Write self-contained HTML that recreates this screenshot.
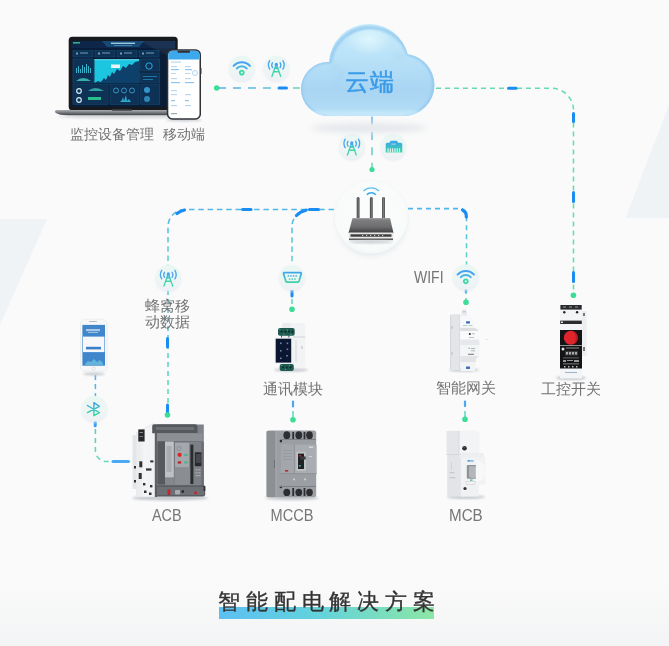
<!DOCTYPE html>
<html><head><meta charset="utf-8">
<style>
html,body{margin:0;padding:0;}
body{width:669px;height:646px;overflow:hidden;position:relative;background:#fafafa;font-family:"Liberation Sans",sans-serif;}
.abs{position:absolute;}
.lbl{position:absolute;color:#727272;white-space:nowrap;line-height:1;transform:scale(1.0001);transform-origin:0 0;}
svg{position:absolute;left:0;top:0;}
</style></head><body>
<svg width="669" height="646" viewBox="0 0 669 646">
<defs>
  <linearGradient id="bg" x1="0" y1="0" x2="0" y2="1">
    <stop offset="0" stop-color="#fafafa"/><stop offset="0.9" stop-color="#fafafa"/><stop offset="1" stop-color="#f3f4f5"/>
  </linearGradient>
</defs>
<rect width="669" height="646" fill="url(#bg)"/>
<polygon points="0,219 47,219 0,325" fill="#eff3f6"/>
<polygon points="625.5,218 669,218 669,105" fill="#eff3f6"/>
</svg>
<svg width="669" height="646" viewBox="0 0 669 646" fill="none">
<defs>
  <linearGradient id="gTL" gradientUnits="userSpaceOnUse" x1="216" y1="0" x2="300" y2="0">
    <stop offset="0" stop-color="#56acf2"/><stop offset="0.7" stop-color="#5cc4dc"/><stop offset="1" stop-color="#64dcb4"/>
  </linearGradient>
  <linearGradient id="gV" gradientUnits="userSpaceOnUse" x1="0" y1="116" x2="0" y2="170">
    <stop offset="0" stop-color="#56acf2"/><stop offset="1" stop-color="#5edbb0"/>
  </linearGradient>
  <linearGradient id="gRL" gradientUnits="userSpaceOnUse" x1="0" y1="205" x2="0" y2="265">
    <stop offset="0" stop-color="#4fb3ec"/><stop offset="1" stop-color="#62d8c4"/>
  </linearGradient>
  <linearGradient id="gACB" gradientUnits="userSpaceOnUse" x1="0" y1="290" x2="0" y2="415">
    <stop offset="0" stop-color="#56c8d8"/><stop offset="1" stop-color="#5edcb4"/>
  </linearGradient>
  <linearGradient id="gPH" gradientUnits="userSpaceOnUse" x1="0" y1="375" x2="0" y2="462">
    <stop offset="0" stop-color="#4fb0f0"/><stop offset="1" stop-color="#5edcb8"/>
  </linearGradient>
</defs>
<g stroke-width="1.55">
  <!-- top left -->
  <path d="M217 88 H300" stroke="url(#gTL)" stroke-dasharray="8 7" stroke-dashoffset="-1"/>
  <!-- top right -->
  <path d="M436 88.3 H551.5 A22 22 0 0 1 573.5 110.3 V295" stroke="#66dcb0" stroke-dasharray="5 4"/>
  <!-- cloud down -->
  <path d="M372 116.5 V169" stroke="url(#gV)" stroke-dasharray="8 7.4" stroke-width="1.4"/>
  <!-- router left -->
  <path d="M334 209.5 H185 A17 17 0 0 0 168 226.5 V266" stroke="url(#gRL)" stroke-dasharray="5.5 3.8"/>
  <path d="M309 209.5 A17 17 0 0 0 292 226.5 V266" stroke="url(#gRL)" stroke-dasharray="5.5 3.8"/>
  <path d="M168 290 V415" stroke="url(#gACB)" stroke-dasharray="5 4"/>
  <path d="M292 290 V309" stroke="#5ed8c0" stroke-dasharray="5 4"/>
  <!-- router right -->
  <path d="M408 208.6 H459.5 A7 7 0 0 1 466.5 215.6 V266" stroke="url(#gRL)" stroke-dasharray="5 4"/>
  <path d="M466 290 V302" stroke="#5ed8c0" stroke-dasharray="4 4"/>
  <!-- phone to ACB -->
  <path d="M95.4 375 V450.5 A11 11 0 0 0 106.4 461.5 H129" stroke="url(#gPH)" stroke-dasharray="5 4"/>
  <!-- MCCB / MCB -->
  <path d="M293 401 V419" stroke="#5ed8c0" stroke-dasharray="6 4"/>
  <path d="M465 401 V419" stroke="#5ed8c0" stroke-dasharray="6 4"/>
</g>
<g stroke="#1a8cf2" stroke-width="3" stroke-linecap="round">
  <path d="M279 88 H286.5"/>
  <path d="M508.5 88.3 H516"/>
  <path d="M573.5 113.5 V121.5"/>
  <path d="M573.5 192.5 V201.5"/>
  <path d="M573.5 272.5 V281.5"/>
  <path d="M177 213.5 A17 17 0 0 1 184.5 210" stroke-width="3.2"/>
  <path d="M242.5 209.5 H251"/>
  <path d="M296.5 215.5 A17 17 0 0 1 306 210.2" stroke-width="3.2"/>
  <path d="M309.5 209.5 H318.5"/>
  <path d="M462.5 210 A7 7 0 0 1 466.3 217" stroke-width="3.2"/>
  <path d="M167.5 338.5 V347"/>
  <path d="M167.5 405 V413"/>
  <path d="M292 290.5 V296"/>
  <path d="M113 461.5 H128.5" stroke="#48aaf4"/>
  <path d="M95.2 422.5 V425.8" stroke="#3a9ef4"/>
</g>
<g stroke="#4aa6f0" stroke-width="2.2" stroke-linecap="round">
  <path d="M466 289.3 V291.8" stroke-width="2.6"/>
  <path d="M293 401.5 V406.5"/>
  <path d="M465 401.5 V406"/>
</g>
<g fill="#3ddc97">
  <circle cx="216.7" cy="88" r="2.8"/>
  <circle cx="573.4" cy="295.3" r="2.8"/>
  <circle cx="372" cy="169.5" r="2.6"/>
  <circle cx="292" cy="309.2" r="2.8"/>
  <circle cx="466" cy="302.3" r="2.8"/>
  <circle cx="167.5" cy="415" r="2.8"/>
  <circle cx="293" cy="419.7" r="2.8"/>
  <circle cx="465" cy="419.3" r="2.8"/>
</g>
</svg>
<svg width="669" height="646" viewBox="0 0 669 646" fill="none">
<defs>
  <linearGradient id="cbg" x1="0" y1="0" x2="0" y2="1">
    <stop offset="0" stop-color="#e9f7f2"/><stop offset="0.6" stop-color="#eef5f5"/><stop offset="1" stop-color="#edf1f6"/>
  </linearGradient>
  <linearGradient id="ig" x1="0" y1="0" x2="0" y2="1">
    <stop offset="0" stop-color="#3b9cf6"/><stop offset="1" stop-color="#3ddc9a"/>
  </linearGradient>
  <filter id="csh" x="-50%" y="-50%" width="200%" height="200%">
    <feGaussianBlur stdDeviation="1.2"/>
  </filter>
  <g id="circ">
    <circle cx="0" cy="1.2" r="13" fill="#e4e9ef" filter="url(#csh)" opacity="0.7"/>
    <circle cx="0" cy="0" r="12.6" fill="url(#cbg)"/>
  </g>
  <g id="wifi">
    <use href="#circ"/>
    <g stroke="url(#ig)" stroke-width="1.9" stroke-linecap="round" fill="none">
      <path d="M-8.2 -2.4 A11 11 0 0 1 8.2 -2.4" stroke="#45a2f2"/>
      <path d="M-5 0.2 A6.8 6.8 0 0 1 5 0.2" stroke="#4cb6e0"/>
      <circle cx="0" cy="4.3" r="2" stroke="#40d8a2" stroke-width="1.8"/>
    </g>
  </g>
  <g id="ant">
    <use href="#circ"/>
    <g stroke-linecap="round" fill="none" stroke-width="1.35">
      <path d="M-3.8 -5.6 Q-5.4 -3.2 -3.8 -0.6 M3.8 -5.6 Q5.4 -3.2 3.8 -0.6" stroke="#4ca8ee"/>
      <path d="M-6.6 -7.6 Q-9.2 -3.4 -6.6 0.9 M6.6 -7.6 Q9.2 -3.4 6.6 0.9" stroke="#4ca8ee"/>
      <path d="M-4.4 8.2 L-0.7 -2.6 H0.7 L4.4 8.2 M-2.6 3.4 H2.6 M-1.4 0.6 L1.2 -1.2 M1.4 0.6 L-1.2 -1.2" stroke="url(#ig2)"/>
      <circle cx="0" cy="-4" r="1.6" fill="#45a2f0" stroke="none"/>
    </g>
  </g>
  <linearGradient id="ig2" gradientUnits="userSpaceOnUse" x1="0" y1="-4" x2="0" y2="8">
    <stop offset="0" stop-color="#4aa8ec"/><stop offset="0.45" stop-color="#44d2b0"/><stop offset="1" stop-color="#3ddc98"/>
  </linearGradient>
  <linearGradient id="ig3" gradientUnits="userSpaceOnUse" x1="0" y1="-7" x2="0" y2="7">
    <stop offset="0" stop-color="#3d9ef5"/><stop offset="1" stop-color="#3ddc9a"/>
  </linearGradient>
  <g id="serial">
    <use href="#circ"/>
    <path d="M-7.6 -4.8 H8.4 Q9.6 -4.8 9.2 -3.6 L7 3.6 Q6.6 4.6 5.6 4.6 H-4.8 Q-5.8 4.6 -6.2 3.6 L-8.4 -3.6 Q-8.8 -4.8 -7.6 -4.8 Z" stroke="url(#ig3)" stroke-width="1.7"/>
    <g fill="#55b8d8">
      <circle cx="-3.6" cy="-1.6" r="0.9"/><circle cx="-1" cy="-1.6" r="0.9"/><circle cx="1.6" cy="-1.6" r="0.9"/><circle cx="4.2" cy="-1.6" r="0.9"/>
      <circle cx="-2.4" cy="1.6" r="0.9" fill="#50ccb8"/><circle cx="0.3" cy="1.6" r="0.9" fill="#50ccb8"/><circle cx="3" cy="1.6" r="0.9" fill="#50ccb8"/>
    </g>
  </g>
  <g id="bt">
    <use href="#circ"/>
    <path d="M-7 -3.2 L5 3.9 L-0.5 7 V-6 L5 -2.4 L-7 3.9" stroke="url(#ig3)" stroke-width="1.45" stroke-linejoin="round" stroke-linecap="round"/>
  </g>
  <g id="eth">
    <use href="#circ"/>
    <path d="M-7.6 -2.5 Q-7.6 -4 -6 -4 H-4 L-2.5 -6 H3.5 L5 -4 H7.5 Q9 -4 9 -2.5 V5.6 H-7.6 Z" fill="url(#ig3)"/>
    <g fill="#eaf5f3">
      <rect x="-5.8" y="1.5" width="1.1" height="4.2"/><rect x="-3.5" y="1.5" width="1.1" height="4.2"/><rect x="-1.2" y="1.5" width="1.1" height="4.2"/>
      <rect x="1.1" y="1.5" width="1.1" height="4.2"/><rect x="3.4" y="1.5" width="1.1" height="4.2"/><rect x="5.7" y="1.5" width="1.1" height="4.2"/>
      <rect x="-2" y="-3.2" width="4.5" height="1" opacity="0.6"/>
    </g>
  </g>
</defs>
<use href="#wifi" x="241.8" y="68.3"/>
<use href="#ant" x="276.3" y="68.3"/>
<use href="#ant" x="351.8" y="146.8"/>
<use href="#eth" x="393.3" y="146.8"/>
<use href="#ant" x="168.3" y="277.9"/>
<use href="#serial" x="292" y="277.5"/>
<use href="#wifi" x="465.8" y="277"/>
<use href="#bt" x="94.4" y="408.7"/>
</svg>
<svg width="669" height="646" viewBox="0 0 669 646">
<defs>
  <filter id="b1" x="-20%" y="-20%" width="140%" height="140%"><feGaussianBlur stdDeviation="1"/></filter>
  <filter id="b2" x="-30%" y="-30%" width="160%" height="160%"><feGaussianBlur stdDeviation="2.5"/></filter>
  <filter id="b3" x="-30%" y="-100%" width="160%" height="300%"><feGaussianBlur stdDeviation="3"/></filter>
  <filter id="b05"><feGaussianBlur stdDeviation="0.5"/></filter>
  <filter id="b04" x="-5%" y="-5%" width="110%" height="110%"><feGaussianBlur stdDeviation="0.35"/></filter>
  <clipPath id="scrClip"><rect x="71.2" y="40.8" width="104.3" height="66.2"/></clipPath>
  <g id="cloudP"><circle cx="328" cy="89" r="27"/><circle cx="369" cy="64" r="40"/><circle cx="403.5" cy="85" r="31"/><rect x="328" y="62" width="76" height="54.1"/></g>
  <clipPath id="cloudClip"><circle cx="328" cy="89" r="27"/><circle cx="369" cy="64" r="40"/><circle cx="403.5" cy="85" r="31"/><rect x="328" y="62" width="76" height="54.1"/></clipPath>
  <linearGradient id="cloudG" x1="0" y1="0" x2="0" y2="1">
    <stop offset="0" stop-color="#d6f3fc"/><stop offset="0.45" stop-color="#c2e6f9"/><stop offset="1" stop-color="#b2dbf6"/>
  </linearGradient>
  <linearGradient id="cloudGU" gradientUnits="userSpaceOnUse" x1="0" y1="25" x2="0" y2="116">
    <stop offset="0" stop-color="#d4f2fc"/><stop offset="0.5" stop-color="#c0e5f8"/><stop offset="1" stop-color="#b6ddf6"/>
  </linearGradient>
  <linearGradient id="cloudBase" gradientUnits="userSpaceOnUse" x1="0" y1="24" x2="0" y2="116">
    <stop offset="0" stop-color="#c6eafa"/><stop offset="0.35" stop-color="#bae2f8"/><stop offset="0.72" stop-color="#a9d5f3"/><stop offset="0.9" stop-color="#b0daf5"/><stop offset="1" stop-color="#bfe3f8"/>
  </linearGradient>
  <radialGradient id="cloudHi" cx="0.5" cy="0.3" r="0.5">
    <stop offset="0" stop-color="#e2f8fd" stop-opacity="0.9"/><stop offset="1" stop-color="#e2f8fd" stop-opacity="0"/>
  </radialGradient>
  <radialGradient id="routerBg" cx="0.5" cy="0.45" r="0.55">
    <stop offset="0" stop-color="#fbfcfc"/><stop offset="0.9" stop-color="#f9fbfb"/><stop offset="1" stop-color="#f3f7f7"/>
  </radialGradient>
  <linearGradient id="rtTop" x1="0" y1="0" x2="0" y2="1">
    <stop offset="0" stop-color="#a8a8aa"/><stop offset="0.12" stop-color="#7e7e81"/><stop offset="0.6" stop-color="#6c6c6e"/><stop offset="1" stop-color="#3c3c3e"/>
  </linearGradient>
  <linearGradient id="antG" x1="0" y1="0" x2="1" y2="0">
    <stop offset="0" stop-color="#3a3a3c"/><stop offset="0.5" stop-color="#7a7a7c"/><stop offset="1" stop-color="#3a3a3c"/>
  </linearGradient>
  <linearGradient id="lapBase" x1="0" y1="0" x2="0" y2="1">
    <stop offset="0" stop-color="#a9acb1"/><stop offset="0.45" stop-color="#7a7d82"/><stop offset="1" stop-color="#3f4247"/>
  </linearGradient>
</defs>

<!-- cloud shadow -->
<ellipse cx="369" cy="128" rx="58" ry="5" fill="#e0e4e9" filter="url(#b3)" opacity="0.85"/>
<!-- cloud -->
<g fill="url(#cloudBase)">
  <circle cx="328" cy="89" r="27"/><circle cx="369" cy="64" r="40"/><circle cx="403.5" cy="85" r="31"/><rect x="328" y="62" width="76" height="54.1"/>
</g>
<g clip-path="url(#cloudClip)">
  <g fill="none" stroke="#8fc6ee" stroke-width="2.6" filter="url(#b1)" opacity="0.9">
    <path d="M328 116 A27 27 0 0 1 301 89 A27 27 0 0 1 330.5 62.2"/>
    <path d="M330.5 62.2 A40 40 0 0 1 408 54.5"/>
    <path d="M408 54.5 A31 31 0 0 1 403.5 116"/>
  </g>
  <g fill="none" stroke="#a4d2f2" stroke-width="3" filter="url(#b2)" opacity="0.7">
    <path d="M331 70 A24 24 0 0 1 338 66"/>
    <path d="M336 88 A35 35 0 0 1 345 70"/>
    <path d="M394 57 A29 29 0 0 1 402 56"/>
  </g>
  <ellipse cx="369" cy="46" rx="24" ry="16" fill="url(#cloudHi)"/>
  <rect x="300" y="111" width="137" height="6" fill="#c6e8f9" filter="url(#b1)" opacity="0.8"/>
</g>

<!-- router -->
<circle cx="371.3" cy="221" r="36" fill="#e6eaee" filter="url(#b2)" opacity="0.85"/>
<circle cx="371.3" cy="217" r="36.8" fill="url(#routerBg)" stroke="#eaf3f1" stroke-width="0.4"/>
<g>
  <path d="M363.5 191 A11 11 0 0 1 379 191" stroke="#62c0f0" stroke-width="1.3" fill="none"/>
  <path d="M366.8 194.8 A6 6 0 0 1 375.8 194.8" stroke="#3aa8f0" stroke-width="1.6" fill="none"/>
  <rect x="356.7" y="197" width="2.8" height="22" rx="1.4" fill="url(#antG)"/>
  <rect x="369.9" y="197" width="2.8" height="22" rx="1.4" fill="url(#antG)"/>
  <rect x="382.1" y="197" width="2.8" height="22" rx="1.4" fill="url(#antG)"/>
  <path d="M352.5 218 H390 L393.5 233 H348.5 Z" fill="url(#rtTop)"/>
  <rect x="348.5" y="232.5" width="45" height="6" rx="1" fill="#e8e8e8"/>
  <rect x="350.5" y="234.3" width="41" height="2.4" fill="#3a3a3a"/>
  <g fill="#d0d0d0"><rect x="362" y="235" width="1.2" height="1"/><rect x="366" y="235" width="1.2" height="1"/><rect x="370" y="235" width="1.2" height="1"/><rect x="374" y="235" width="1.2" height="1"/><rect x="378" y="235" width="1.2" height="1"/><rect x="382" y="235" width="1.2" height="1"/></g>
  <rect x="349" y="238.5" width="44" height="1.6" fill="#555"/>
  <ellipse cx="371" cy="242" rx="22" ry="1.5" fill="#c8ccd0" filter="url(#b1)"/>
</g>

<!-- laptop -->
<ellipse cx="122" cy="116.5" rx="64" ry="2" fill="#d5d8dc" filter="url(#b1)"/>
<rect x="68.7" y="36.7" width="109" height="73.5" rx="3.5" fill="#17191c"/>
<rect x="71.2" y="40.8" width="104.3" height="66.2" fill="#0a1d36"/>
<g filter="url(#b04)" clip-path="url(#scrClip)">
  <rect x="71.2" y="40.8" width="104.3" height="7.5" fill="#0c2748"/>
  <path d="M102 41 H144 L139 47 H107 Z" fill="#174a74"/>
  <rect x="111" y="42.6" width="24" height="1.4" fill="#a8d8ee" opacity="0.9"/>
  <rect x="114" y="45" width="18" height="0.8" fill="#6fa8cc" opacity="0.7"/>
  <rect x="73" y="42" width="7" height="1.6" fill="#3fd090" opacity="0.8"/>
  <g fill="#0f3356" stroke="#1b4f7c" stroke-width="0.5">
    <rect x="73" y="50.5" width="20" height="6.5"/>
    <rect x="95" y="50.5" width="20" height="6.5"/>
    <rect x="117" y="50.5" width="20" height="6.5"/>
    <rect x="139" y="50.5" width="20" height="6.5"/>
    <rect x="73" y="59" width="20.5" height="24"/>
    <rect x="140.8" y="59" width="19" height="12"/>
    <rect x="140.8" y="73" width="19" height="10"/>
    <rect x="73" y="84.5" width="35" height="20"/>
    <rect x="110" y="84.5" width="29" height="20"/>
    <rect x="140.8" y="84.5" width="19" height="20"/>
  </g>
  <g fill="#9cc8e0" opacity="0.7">
    <rect x="76" y="52.5" width="2" height="2"/><rect x="80" y="52.5" width="8" height="1"/>
    <rect x="98" y="52.5" width="2" height="2"/><rect x="102" y="52.5" width="8" height="1"/>
    <rect x="120" y="52.5" width="2" height="2"/><rect x="124" y="52.5" width="8" height="1"/>
    <rect x="142" y="52.5" width="2" height="2"/><rect x="146" y="52.5" width="8" height="1"/>
  </g>
  <g fill="#3fc8e0" opacity="0.85">
    <rect x="76" y="68" width="1" height="5"/><rect x="78" y="66" width="1" height="7"/><rect x="80" y="69" width="1" height="4"/><rect x="82" y="65" width="1" height="8"/><rect x="84" y="67" width="1" height="6"/><rect x="86" y="64" width="1" height="9"/><rect x="88" y="66" width="1" height="7"/><rect x="90" y="68" width="1" height="5"/>
  </g>
  <path d="M76 81 Q83 75 91 81 Z" fill="#3fd0c0" opacity="0.8"/>
  <rect x="94.4" y="59.1" width="44.8" height="24" fill="#1ec6e0"/>
  <path d="M94.4 83.1 L98 81 L101 82 L104 78 L106 80 L108 75 L110 77 L112 72 L114 74 L117 69 L120 71 L123 66 L126 68 L129 64 L132 65 L135 62 L139.2 61 V83.1 Z" fill="#0b3f6a"/>
  <rect x="111" y="64.5" width="9" height="3.5" fill="#e8f4f8"/>
  <rect x="94.4" y="59.1" width="44.8" height="1.2" fill="#7fe0f0" opacity="0.6"/>
  <circle cx="149" cy="66" r="3.2" fill="none" stroke="#2aa8e0" stroke-width="1"/>
  <g fill="#2aa8e0" opacity="0.6"><rect x="143" y="76" width="14" height="1"/><rect x="143" y="79" width="10" height="1"/></g>
  <circle cx="79" cy="91" r="2.3" fill="none" stroke="#cfe6f2" stroke-width="1.2"/>
  <circle cx="79" cy="100" r="2.3" fill="none" stroke="#cfe6f2" stroke-width="1.2"/>
  <path d="M88 91 Q95 85 104 91 Z" fill="#3fd0c0" opacity="0.7"/>
  <rect x="88" y="97" width="13" height="3" fill="#2fcf90" opacity="0.9"/>
  <circle cx="116" cy="90.5" r="2.5" fill="none" stroke="#3fa8d8" stroke-width="0.8"/>
  <circle cx="124" cy="90.5" r="2.5" fill="none" stroke="#3fa8d8" stroke-width="0.8"/>
  <circle cx="132" cy="90.5" r="2.5" fill="none" stroke="#3fa8d8" stroke-width="0.8"/>
  <path d="M120 102 L122 100 L123 97 L124 101 L126 95 L127 101 L129 99 L131 102 Z" fill="#30c0e0" opacity="0.85"/>
  <circle cx="147" cy="90" r="3" fill="#3aa8e0" opacity="0.85"/>
  <circle cx="147" cy="99" r="3" fill="#3aa8e0" opacity="0.7"/>
  <path d="M140 41 L175.5 41 V60 Z" fill="#ffffff" opacity="0.06"/>
</g>
<path d="M55 111.5 Q55 110.1 57.5 110.1 H184 Q187.5 110.1 187.5 112 Q187.5 115.3 182 115.3 H68 Q59 115.3 55.5 112.8 Z" fill="url(#lapBase)"/>
<rect x="112" y="109.5" width="20" height="1.4" rx="0.7" fill="#555a60"/>

<!-- top phone -->
<ellipse cx="184" cy="120" rx="18" ry="1.5" fill="#c9cdd2" filter="url(#b1)"/>
<rect x="166.8" y="49.2" width="34.2" height="70.5" rx="5.5" fill="#2e3136"/>
<rect x="168.3" y="50.8" width="31.2" height="67.4" rx="4.3" fill="#ffffff"/>
<path d="M168.3 59.5 V55 Q168.3 50.8 172.6 50.8 H195.2 Q199.5 50.8 199.5 55 V59.5 Z" fill="#3ea8ec"/>
<rect x="177.5" y="50.6" width="12.5" height="2.2" rx="1" fill="#2e3136"/>
<g fill="#b9d8ef">
  <rect x="171" y="61.5" width="10" height="1.2"/>
  <rect x="171" y="66" width="6" height="1.2"/><rect x="185" y="66" width="6" height="1.2"/>
  <rect x="171" y="69" width="8" height="1.2" fill="#8cc6ef"/><rect x="185" y="69" width="7" height="1.2" fill="#8cc6ef"/>
  <rect x="171" y="73" width="5" height="1"/><rect x="185" y="73" width="5" height="1"/>
  <rect x="171" y="78" width="6" height="1.2"/><rect x="185" y="78" width="6" height="1.2"/>
  <rect x="171" y="82" width="9" height="1.2" fill="#8cc6ef"/><rect x="185" y="82" width="9" height="1.2" fill="#8cc6ef"/>
  <rect x="171" y="90" width="6" height="1.2"/>
  <rect x="171" y="94" width="6" height="1.2"/><rect x="185" y="94" width="6" height="1.2"/>
  <rect x="171" y="100" width="4" height="1.2" fill="#8cc6ef"/><rect x="185" y="100" width="4" height="1.2" fill="#8cc6ef"/>
  <rect x="171" y="105" width="6" height="1.2"/><rect x="185" y="105" width="6" height="1.2"/>
  <rect x="171" y="113" width="6" height="1.2" fill="#9aa"/>
</g>
<circle cx="195" cy="73" r="2.5" fill="none" stroke="#8cc6ef" stroke-width="0.7"/>
<rect x="200.5" y="68" width="1" height="6" fill="#3a3d42"/>

<defs>
  <linearGradient id="mccbG" x1="0" y1="0" x2="1" y2="0">
    <stop offset="0" stop-color="#7b7e83"/><stop offset="0.2" stop-color="#8f9297"/><stop offset="1" stop-color="#898c91"/>
  </linearGradient>
  <linearGradient id="acbW" x1="0" y1="0" x2="1" y2="0">
    <stop offset="0" stop-color="#e6e8ea"/><stop offset="0.4" stop-color="#f4f5f6"/><stop offset="1" stop-color="#eeeff1"/>
  </linearGradient>
  <linearGradient id="acbG" x1="0" y1="0" x2="1" y2="0">
    <stop offset="0" stop-color="#6c6f74"/><stop offset="0.5" stop-color="#85888d"/><stop offset="1" stop-color="#797c81"/>
  </linearGradient>
  <linearGradient id="whiteG" x1="0" y1="0" x2="1" y2="0">
    <stop offset="0" stop-color="#dcdee2"/><stop offset="0.5" stop-color="#f4f5f6"/><stop offset="1" stop-color="#e3e5e8"/>
  </linearGradient>
</defs>

<!-- bottom-left phone -->
<ellipse cx="94" cy="374" rx="11" ry="1.5" fill="#c6cacf" filter="url(#b1)"/>
<rect x="80.5" y="319.3" width="26.6" height="52" rx="4.5" fill="#f6f7f8" stroke="#e0e3e6" stroke-width="0.5"/>
<rect x="82.4" y="324.9" width="22.6" height="40.8" fill="#4086cb"/>
<rect x="83" y="336.6" width="21.4" height="15.5" fill="#f5f7fa"/>
<rect x="86" y="346.8" width="15" height="2.6" fill="#3b80c6"/>
<rect x="86" y="329" width="14" height="2.2" fill="#d6e6f5" opacity="0.7"/>
<rect x="88" y="332" width="10" height="1" fill="#d6e6f5" opacity="0.6"/>
<path d="M85 364 L88 361 L91 362 L94 359 L97 362 L100 360 L103 363 V365 H85 Z" fill="#7bd3e8" opacity="0.6"/>
<rect x="89" y="321" width="8" height="1" rx="0.5" fill="#bbb"/>
<circle cx="93.8" cy="368.5" r="1.6" fill="none" stroke="#ccc" stroke-width="0.5"/>

<!-- ACB -->
<ellipse cx="170" cy="498" rx="38" ry="2.5" fill="#c4c8cd" filter="url(#b1)"/>
<rect x="132.5" y="435" width="3.8" height="54" fill="#e3e5e8"/>
<path d="M136.5 432.5 L152.9 423.7 L157.3 425 V497 H136.5 Z" fill="url(#acbW)" stroke="#d9dbde" stroke-width="0.5"/>
<rect x="136.5" y="432" width="2" height="65" fill="#eceef0"/>
<rect x="154.8" y="425" width="2.5" height="72" fill="#5e6166"/>
<rect x="138.3" y="429.4" width="6.3" height="12.1" fill="#26282b"/>
<rect x="139.5" y="432" width="3.5" height="1" fill="#888"/><rect x="139.5" y="436" width="3.5" height="1" fill="#777"/>
<g fill="#2f3134">
  <rect x="139.3" y="461.3" width="3" height="6"/><rect x="138.7" y="473" width="3" height="6"/>
  <rect x="150.2" y="460.4" width="3.2" height="2"/><rect x="146" y="468.4" width="5.5" height="2.2"/>
  <rect x="143" y="483" width="2.4" height="2.4"/><rect x="150" y="485" width="2.4" height="2.4"/>
  <rect x="144" y="490.5" width="2.5" height="2.5"/><rect x="149" y="492.5" width="2.5" height="2.5"/>
  <rect x="134" y="466" width="2" height="2.5"/><rect x="134" y="480" width="2" height="2.5"/>
</g>
<rect x="157.3" y="424.5" width="46.5" height="64" fill="#7f8287"/>
<path d="M152.2 426 Q152.2 424.3 154 424.3 H195 Q197.5 424.3 197.5 426.5 V433.2 H152.2 Z" fill="#55585d"/>
<rect x="156" y="427" width="38" height="3" fill="#6d7075"/>
<rect x="197.5" y="433.5" width="3.2" height="8" rx="1" fill="#3d3f43"/>
<rect x="157.3" y="433.2" width="45" height="8.3" fill="#8c8f94"/>
<rect x="157.3" y="441" width="45" height="1" fill="#6f7277"/>
<rect x="157.3" y="441.5" width="7.7" height="43" fill="#56595e"/>
<rect x="165" y="441.5" width="8.9" height="36.1" fill="#bfc1c4"/>
<rect x="166.5" y="446" width="5" height="26" fill="#a9acb0"/>
<rect x="165" y="477.6" width="25" height="7" fill="#85888c"/>
<rect x="174.5" y="442.7" width="14.6" height="24.8" fill="#a4a7ab"/>
<rect x="173.9" y="441.5" width="0.8" height="43" fill="#6a6d72"/>
<circle cx="179" cy="448.5" r="2.1" fill="none" stroke="#7a7d82" stroke-width="0.6"/>
<circle cx="179.6" cy="454.8" r="2.1" fill="#d8262c"/>
<rect x="177.7" y="461.3" width="3.5" height="2.3" fill="#c4242a"/>
<rect x="184.3" y="453.8" width="3.5" height="2.2" fill="#48b888"/>
<rect x="184.3" y="461.3" width="3.5" height="2.2" fill="#48b888"/>
<rect x="174.5" y="467.5" width="15.9" height="17" fill="#8a8d92"/>
<rect x="190.4" y="444.6" width="3.2" height="39.4" fill="#2a2c30"/>
<rect x="193.6" y="443.4" width="9" height="41" fill="#7c7f84"/>
<rect x="194.8" y="452.3" width="7" height="13.9" fill="#26282b"/>
<rect x="195.8" y="454" width="5" height="9" fill="#45484d"/>
<g fill="#a2a5a9"><rect x="195.5" y="469" width="2" height="1.5"/><rect x="198.5" y="469" width="2" height="1.5"/><rect x="195.5" y="472" width="2" height="1.5"/><rect x="198.5" y="472" width="2" height="1.5"/><rect x="195.5" y="475" width="5" height="1.2"/></g>
<rect x="201.5" y="442" width="2.3" height="45" fill="#6a6d72"/>
<path d="M155 485.3 H204.3 L205.2 487 V494.2 Q205.2 496.5 203 496.5 H157 L155 494 Z" fill="#5a5c61"/>
<rect x="157" y="487" width="47" height="8" fill="#6c6f74"/>
<rect x="167.5" y="489.5" width="2.8" height="5.5" fill="#c4242a"/>
<rect x="175" y="490" width="5" height="4.5" rx="1" fill="#a9acb0"/>
<circle cx="182.8" cy="491.6" r="1.3" fill="#222"/>
<rect x="194.3" y="491.5" width="2.6" height="2.6" fill="#c4242a"/>
<rect x="203.5" y="486" width="1.8" height="5" fill="#333"/>

<!-- MCCB -->
<ellipse cx="292" cy="498" rx="27" ry="2.2" fill="#c4c8cd" filter="url(#b1)"/>
<path d="M266.6 432.5 Q266.6 430.4 269 430.4 H314 Q316.2 430.4 316.2 432.5 V495 Q316.2 497.3 314 497.3 H269 Q266.6 497.3 266.6 495 Z" fill="#9b9ea2"/>
<rect x="266.6" y="431" width="9" height="66" fill="#8c8f93"/>
<rect x="275.5" y="431" width="1" height="66" fill="#a8abaf"/>
<g fill="#2c2e31">
  <ellipse cx="286.8" cy="435.3" rx="3.4" ry="4"/><ellipse cx="298.8" cy="435.3" rx="3.4" ry="4"/><ellipse cx="309.5" cy="435.3" rx="3.3" ry="4"/>
  <rect x="292.3" y="432" width="1.8" height="8"/><rect x="303.6" y="432" width="1.8" height="8"/>
  <ellipse cx="286.8" cy="492.4" rx="3.4" ry="3.6"/><ellipse cx="298.8" cy="492.4" rx="3.4" ry="3.6"/><ellipse cx="309.5" cy="492.4" rx="3.3" ry="3.6"/>
  <rect x="292.3" y="488" width="1.8" height="8"/><rect x="303.6" y="488" width="1.8" height="8"/>
  <circle cx="280.9" cy="441.1" r="1.3"/><circle cx="280.9" cy="487" r="1.3"/>
</g>
<g fill="#7d8084"><rect x="280" y="439" width="36" height="1"/><rect x="280" y="486" width="36" height="1"/></g>
<rect x="280.9" y="444.7" width="35.7" height="29.2" fill="#a9acb0"/>
<rect x="280.9" y="444.7" width="13" height="29.2" fill="#a3a6aa"/>
<rect x="293.9" y="444.7" width="0.8" height="29.2" fill="#8a8d91"/>
<rect x="280.9" y="473.3" width="35.7" height="0.8" fill="#8a8d91"/>
<rect x="296.4" y="451.8" width="9.5" height="19.1" fill="#bfc2c5"/>
<rect x="298" y="453.6" width="6" height="15.4" fill="#1f2124"/>
<rect x="300.2" y="456.5" width="5.5" height="3" fill="#3a3c40"/>
<rect x="298.8" y="455" width="2" height="1.5" fill="#c0262c"/>
<rect x="298.8" y="465" width="2" height="1.6" fill="#2fa8a0"/>
<rect x="285" y="470" width="3.2" height="1.6" fill="#c0262c"/>
<g fill="#94979b"><rect x="283" y="450" width="9" height="0.7"/><rect x="283" y="453" width="9" height="0.7"/><rect x="283" y="456" width="9" height="0.7"/><rect x="283" y="459" width="9" height="0.7"/></g>
<rect x="309" y="446.5" width="4" height="1.4" fill="#d8dadc"/>
<rect x="309" y="456" width="3" height="1" fill="#d0d2d4"/>
<rect x="293.5" y="478.5" width="1.2" height="1.8" fill="#eee"/><rect x="304.5" y="478.5" width="1.2" height="1.8" fill="#eee"/>
<rect x="274" y="460" width="1" height="8" fill="#6f7276"/>

<!-- comm module -->
<ellipse cx="291" cy="370" rx="17" ry="1.8" fill="#c8ccd1" filter="url(#b1)"/>
<path d="M282.4 325 Q282.4 322.9 284.5 322.9 H303.2 Q305.3 322.9 305.3 325 V365.5 Q305.3 367.4 303.2 367.4 H284.5 Q282.4 367.4 282.4 365.5 Z" fill="#f2f3f5"/>
<rect x="282.4" y="322.9" width="8" height="44.5" fill="#e9ebee"/>
<rect x="293" y="336" width="12.3" height="2" fill="#e1e3e6"/>
<rect x="295.5" y="340" width="1" height="22" fill="#d5d7db"/>
<rect x="301.5" y="346" width="1" height="3" fill="#b9bcc0"/>
<rect x="274.6" y="337.8" width="18" height="26" rx="0.8" fill="#eef0f2"/>
<rect x="275.7" y="338.7" width="15.5" height="23.9" fill="#0b1631"/>
<g fill="#8fa8d0" opacity="0.75">
  <rect x="280" y="342.5" width="1.6" height="1.6"/><rect x="286.6" y="342.5" width="1.6" height="1.6"/>
  <rect x="280" y="350" width="1.6" height="1.6"/><rect x="286.6" y="348.5" width="1.6" height="1.6"/>
  <rect x="280" y="357.5" width="1.6" height="1.6"/><rect x="286.2" y="355" width="1.6" height="1.6"/>
</g>
<rect x="278" y="328.1" width="16.7" height="7.6" rx="2" fill="#1f5a50"/>
<g fill="#0d2c28"><circle cx="281.5" cy="331.5" r="1.1"/><circle cx="285.3" cy="331.8" r="1.1"/><circle cx="289" cy="331.5" r="1.1"/><circle cx="292.3" cy="331.8" r="1.1"/></g>
<g fill="#4fd0b0" opacity="0.8"><rect x="279.5" y="329" width="1" height="1"/><rect x="283.5" y="333.5" width="1" height="1"/><rect x="287" y="329.5" width="1" height="1"/><rect x="290.5" y="333.8" width="1" height="1"/></g>
<rect x="281" y="335.5" width="0.8" height="2" fill="#223"/><rect x="288.5" y="335.5" width="0.8" height="2" fill="#223"/>
<rect x="279.7" y="363.9" width="14.1" height="7.1" rx="2" fill="#1f5a50"/>
<g fill="#0d2c28"><circle cx="283" cy="367.3" r="1.1"/><circle cx="286.8" cy="367.5" r="1.1"/><circle cx="290.5" cy="367.3" r="1.1"/></g>
<g fill="#4fd0b0" opacity="0.8"><rect x="281" y="365" width="1" height="1"/><rect x="285" y="369" width="1" height="1"/><rect x="289" y="365" width="1" height="1"/></g>

<!-- smart gateway -->
<ellipse cx="464" cy="370" rx="15" ry="1.8" fill="#c8ccd1" filter="url(#b1)"/>
<path d="M450.3 316 L452 314.2 H460 V370 H452 Q450.3 370 450.3 368 Z" fill="#e3e5e8"/>
<rect x="450.3" y="315" width="0.8" height="54" fill="#cdd0d4"/>
<rect x="459.4" y="314.5" width="0.8" height="55.5" fill="#d4d7db"/>
<rect x="451.5" y="326" width="1" height="3" fill="#b9bcc0"/><rect x="451.5" y="352" width="1" height="3" fill="#b9bcc0"/>
<path d="M461 315.8 L462.5 309.3 H466 L467.5 315.8 Z" fill="#e9ebee"/>
<rect x="462.5" y="311" width="3.5" height="1.5" fill="#c8cbcf"/>
<path d="M460 315.3 L474.6 318 V328.3 H460 Z" fill="#f7f8f9"/>
<rect x="466" y="321.3" width="4" height="2.3" rx="0.6" fill="#3a6fb5"/>
<rect x="463" y="325.3" width="4" height="0.7" fill="#9ba"/><rect x="468.5" y="325.3" width="4" height="0.7" fill="#9ba"/>
<path d="M460.3 327.7 H474.6 L478.4 330 V331.2 H460.3 Z" fill="#dcdee2"/>
<rect x="460.3" y="331" width="18.1" height="8.6" fill="#f9fafb"/>
<circle cx="469.8" cy="333.9" r="1" fill="#222"/>
<rect x="471.8" y="333.5" width="3" height="0.7" fill="#999"/>
<rect x="469" y="337" width="5" height="0.7" fill="#aaa"/>
<path d="M460.3 339.6 H478.4 L479.5 342 V345 H460.3 Z" fill="#e6e8eb"/>
<rect x="460.3" y="345" width="19" height="10.9" fill="#f4f5f7"/>
<circle cx="469.2" cy="348.3" r="0.7" fill="#3fc088"/>
<rect x="471" y="348" width="4" height="0.7" fill="#999"/>
<rect x="471" y="350.5" width="4" height="0.7" fill="#999"/>
<rect x="468" y="353.8" width="6" height="0.9" fill="#666"/>
<path d="M460.3 355.9 H479 L476 359 V362.4 H460.3 Z" fill="#e2e4e7"/>
<rect x="460.6" y="362.4" width="14.6" height="8.6" fill="#f3f4f6"/>
<rect x="466" y="366.5" width="4" height="2.4" rx="0.6" fill="#3a6fb5"/>
<rect x="486" y="339" width="1.5" height="0.5" fill="#bbb"/>

<!-- MCB -->
<ellipse cx="466" cy="497" rx="19" ry="2" fill="#c8ccd1" filter="url(#b1)"/>
<path d="M446.6 433 L449 430.4 H477 L479.4 432.5 V454 H446.6 Z" fill="#f3f4f5"/>
<rect x="446.6" y="431" width="12.4" height="24" fill="#e4e6e9"/>
<rect x="458.6" y="431" width="0.8" height="24" fill="#d2d4d8"/>
<circle cx="464.5" cy="448.3" r="2.3" fill="#2a2c30"/>
<circle cx="464.1" cy="447.8" r="0.8" fill="#666"/>
<path d="M447.2 454.8 H464 V495.4 Q464 496.6 462.5 496.6 H449 Q447.2 496.6 447.2 495 Z" fill="#e2e4e7"/>
<rect x="449.5" y="472" width="5" height="1.2" fill="#c5c8cc"/><rect x="449.5" y="477" width="6" height="1.2" fill="#c5c8cc"/>
<rect x="451" y="462" width="1" height="8" fill="#cfd2d6"/>
<path d="M459 453 H483 L484.7 457.8 H459 Z" fill="#eceef0"/>
<rect x="460.9" y="457.8" width="24.4" height="26.9" fill="#f1f2f4"/>
<rect x="466.8" y="465" width="9.6" height="13.7" rx="1" fill="#8e9195"/>
<path d="M469 466.5 Q473 465.5 476.4 467 V477.5 Q472 478.5 469 477 Z" fill="#b3b6ba"/>
<path d="M475.8 460 Q486 461 485.3 471 Q486 480 475.8 482 Z" fill="#f7f8f9"/>
<rect x="467.5" y="460.2" width="3" height="1.4" fill="#3a8ad8"/>
<rect x="471" y="460.3" width="2.5" height="1.2" fill="#5aa0e0"/>
<rect x="470" y="479.5" width="2.5" height="1.2" fill="#3fb37e"/>
<rect x="460.9" y="484.7" width="18" height="11.9" fill="#f0f1f3"/>
<rect x="466" y="481.5" width="9" height="3" fill="none" stroke="#c2c5c9" stroke-width="0.5"/>
<circle cx="465" cy="488.5" r="1.6" fill="#2f3134"/>
<rect x="446.6" y="454" width="14.3" height="0.8" fill="#d0d3d7"/>

<!-- 工控开关 -->
<ellipse cx="571" cy="378" rx="15" ry="2" fill="#c4c8cd" filter="url(#b1)"/>
<rect x="560" y="305" width="22" height="73.5" rx="1" fill="#f3f4f5"/>
<rect x="581.7" y="311" width="5" height="45" fill="#eceef0"/>
<rect x="583" y="313" width="2" height="3" fill="#777"/>
<rect x="583" y="347" width="2" height="4" fill="#777"/>
<rect x="560.4" y="305" width="21.3" height="4.6" fill="#2a2b2e"/>
<g fill="#9a9b9d"><rect x="563" y="306.5" width="3" height="1"/><rect x="569" y="306.5" width="3" height="1"/><rect x="575" y="306.5" width="3" height="1"/></g>
<circle cx="564.3" cy="312.2" r="1.2" fill="#222"/>
<circle cx="577.1" cy="312.2" r="1.2" fill="#222"/>
<rect x="560.2" y="320.6" width="21.6" height="3.4" fill="#2a2b2e"/>
<rect x="561" y="321.5" width="2" height="1.5" fill="#ddd"/>
<rect x="560" y="330" width="22" height="15.3" fill="#141416"/>
<circle cx="570.8" cy="337.8" r="7" fill="#e0242b"/>
<path d="M573 331.2 A7 7 0 0 1 573 344.4 A9 9 0 0 0 573 331.2 Z" fill="#b81d22"/>
<rect x="560" y="345.8" width="22" height="22.7" fill="#141416"/>
<circle cx="563" cy="349" r="1.5" fill="#ddd"/>
<rect x="566" y="347.5" width="13" height="1" fill="#888"/>
<rect x="565" y="351" width="13" height="4.5" fill="#3a3a3c"/>
<g fill="#aaa"><rect x="566" y="352" width="2" height="2.5"/><rect x="569" y="352" width="2" height="2.5"/><rect x="572" y="352" width="2" height="2.5"/><rect x="575" y="352" width="2" height="2.5"/></g>
<rect x="563" y="357.5" width="16" height="0.8" fill="#777"/>
<g fill="#999"><rect x="563" y="360" width="3" height="2"/><rect x="567" y="360" width="6" height="1"/><rect x="574" y="360" width="5" height="2"/><rect x="563" y="363.5" width="16" height="0.8"/></g>
<g fill="#bbb"><rect x="564" y="366" width="1.5" height="1.5"/><rect x="568" y="366" width="1.5" height="1.5"/><rect x="572" y="366" width="1.5" height="1.5"/><rect x="576" y="366" width="1.5" height="1.5"/></g>
<rect x="565" y="372" width="12" height="1" fill="#9cb3d0"/>
</svg>
<div class="lbl" id="t1" style="left:69.8px;top:128.3px;font-size:13.6px;">监控设备管理</div>
<div class="lbl" id="t2" style="left:162.6px;top:128.3px;font-size:13.6px;">移动端</div>
<div class="lbl" id="t3" style="left:345px;top:70.5px;font-size:23.6px;color:#3a9be8;letter-spacing:0.6px;-webkit-text-stroke:0.5px #3a9be8;">云端</div>
<div class="lbl" id="t4" style="left:145px;top:299px;font-size:14.8px;line-height:15.5px;">蜂窝移<br>动数据</div>
<div class="lbl" id="t5" style="left:414px;top:269px;font-size:14px;color:#747474;transform:scaleY(1.14);transform-origin:0 0;">WIFI</div>
<div class="lbl" id="t6" style="left:262.5px;top:381.5px;font-size:14.8px;">通讯模块</div>
<div class="lbl" id="t7" style="left:435.5px;top:380.5px;font-size:14.8px;">智能网关</div>
<div class="lbl" id="t8" style="left:540.7px;top:382px;font-size:14.8px;">工控开关</div>
<div class="lbl" id="t9" style="left:152px;top:507px;font-size:14.4px;color:#767676;transform:scaleY(1.13);transform-origin:0 0;">ACB</div>
<div class="lbl" id="t10" style="left:270.5px;top:507px;font-size:14.6px;color:#767676;transform:scaleY(1.13);transform-origin:0 0;">MCCB</div>
<div class="lbl" id="t11" style="left:449px;top:506.5px;font-size:15.2px;color:#767676;transform:scaleY(1.1);transform-origin:0 0;">MCB</div>
<div class="abs" style="left:219px;top:607px;width:215px;height:11.7px;background:linear-gradient(90deg,#5cbff2 0%,#62d2dc 45%,#8ce6a6 100%);"></div>
<div class="lbl" id="t12" style="left:217.6px;top:591.3px;font-size:21.8px;color:#333;letter-spacing:5.85px;-webkit-text-stroke:0.35px #333;">智能配电解决方案</div>
</body></html>
